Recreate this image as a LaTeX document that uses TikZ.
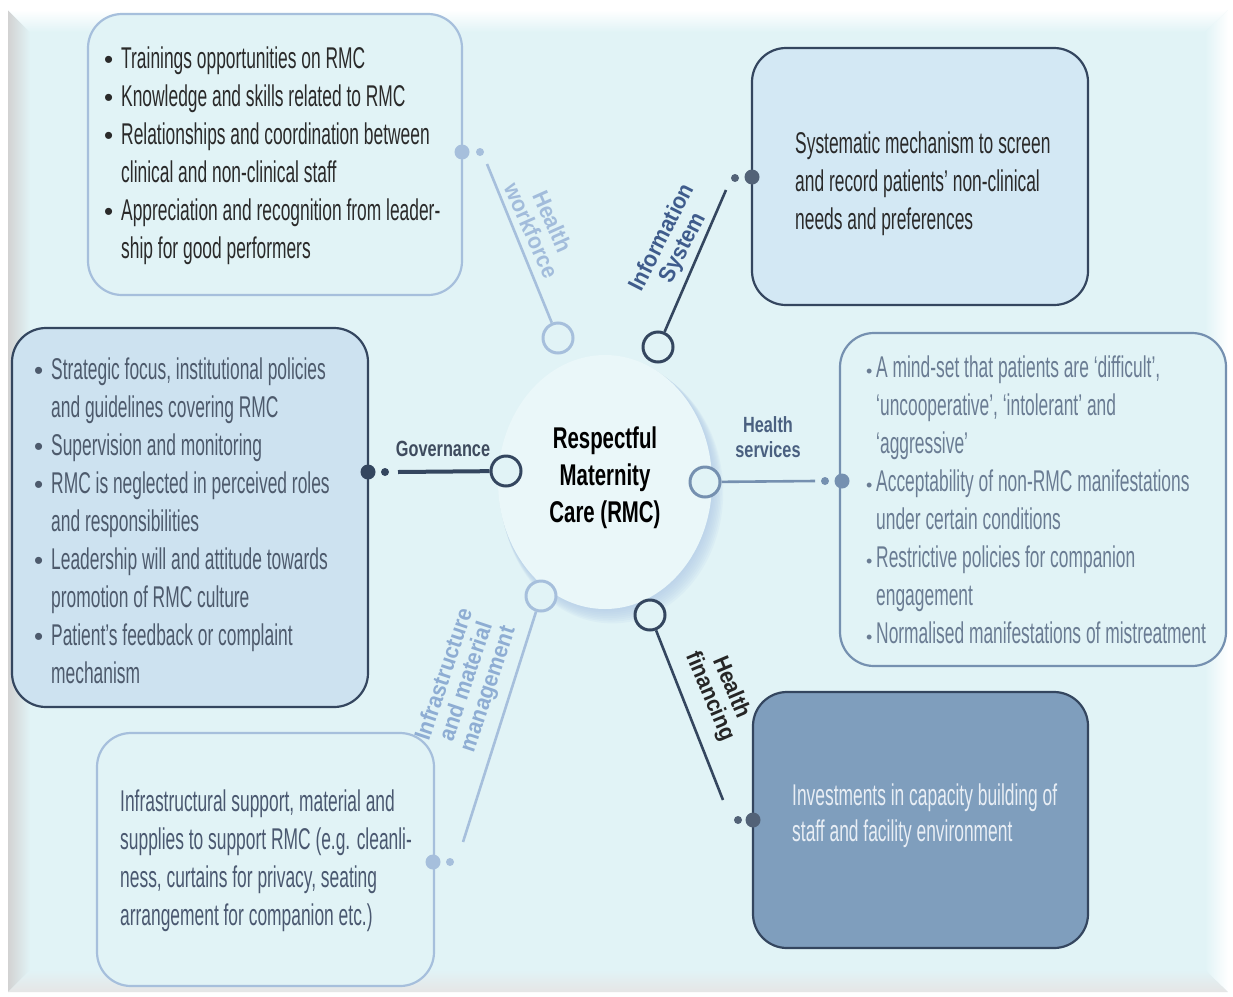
\documentclass[tikz,border=0pt]{standalone}
\usepackage{fontspec}
\setmainfont{Liberation Sans}[FakeStretch=0.58]
\newfontfamily\labfont{Liberation Sans}[FakeStretch=0.74]
\newfontfamily\rotfont{Liberation Sans}[FakeStretch=0.92]
\newfontfamily\cenfont{Liberation Sans}[FakeStretch=0.68]
\newfontfamily\plainfont{Liberation Sans}
\usetikzlibrary{shapes.geometric}
\definecolor{panel}{HTML}{E1F3F6}
\definecolor{darkline}{HTML}{34465F}
\definecolor{lightline}{HTML}{A6BFDC}
\definecolor{midline}{HTML}{7590B0}
\definecolor{infofill}{HTML}{D3E8F4}
\definecolor{govfill}{HTML}{CDE2F0}
\definecolor{finfill}{HTML}{7F9EBD}
\definecolor{txtdark}{HTML}{2A2A2A}
\definecolor{txtgov}{HTML}{4D5A6C}
\definecolor{txths}{HTML}{6A7C93}
\definecolor{txtinf}{HTML}{4A5870}
\definecolor{txtfin}{HTML}{E8EEF5}
\definecolor{labblue}{HTML}{3F5C8C}
\definecolor{lablight}{HTML}{A2BCDB}
\definecolor{labinf}{HTML}{8EADD3}
\definecolor{labgov}{HTML}{3E4B5E}
\definecolor{labhs}{HTML}{4A6080}
\definecolor{shadowc}{HTML}{AFC9E6}
\newcommand\bul{\makebox[17pt][l]{\plainfont\fontsize{26}{26}\selectfont•}}
\newcommand\ind{\hspace*{17pt}}
\newcommand\sbul{\makebox[10pt][l]{\plainfont\fontsize{18}{18}\selectfont•}}
\newcommand\sind{\hspace*{10pt}}
\tikzset{
  box/.style={rounded corners=34pt, line width=2.2pt},
  btext/.style={anchor=north west, inner sep=0pt, align=left, font=\fontsize{30}{38}\selectfont},
  smallc/.style={circle, minimum size=30pt, inner sep=0pt, line width=3pt, fill=panel},
  bigdot/.style={circle, minimum size=15pt, inner sep=0pt},
  smalldot/.style={circle, minimum size=8pt, inner sep=0pt},
  conn/.style={line width=2.6pt},
  lab/.style={font=\labfont\bfseries\fontsize{22}{25}\selectfont, align=center, inner sep=0pt},
  rlab/.style={font=\rotfont\bfseries\fontsize{23}{23}\selectfont, align=center, inner sep=0pt}
}
\begin{document}
\begin{tikzpicture}[x=1pt,y=-1pt]
\useasboundingbox (0,0) rectangle (1233,996);
% frame
\fill[white] (0,0) rectangle (1233,996);
\fill[panel] (8,10) rectangle (1228,992);
\shade[left color=white!65!gray, right color=panel] (8,10) -- (30,32) -- (30,970) -- (8,992) -- cycle;
\shade[top color=white, bottom color=panel] (8,10) -- (1228,10) -- (1205,32) -- (30,32) -- cycle;
\shade[left color=panel, right color=white] (1228,10) -- (1228,992) -- (1205,970) -- (1205,32) -- cycle;
\shade[top color=panel, bottom color=white!80!gray] (8,992) -- (1228,992) -- (1205,970) -- (30,970) -- cycle;
% center circle with shadow
\foreach \i in {1,...,8}{
  \fill[shadowc, opacity=0.12] (605+\i*0.9,482+\i*1.3) ellipse [x radius=107pt+\i*0.5pt, y radius=127pt+\i*0.5pt];
}
\fill[white!30!panel] (605,482) ellipse [x radius=107pt, y radius=127pt];
\node[font=\cenfont\bfseries\fontsize{30}{37}\selectfont, align=center, text=black, inner sep=0pt] (rmc) at (605,478) {Respectful\\Maternity\\Care (RMC)};
% boxes
\node[box, draw=lightline, fill=panel, minimum width=374pt, minimum height=281pt] (wfbox) at (275,154.5) {};
\node[box, draw=darkline, fill=infofill, minimum width=336pt, minimum height=257pt] (isbox) at (920,176.5) {};
\node[box, draw=darkline, fill=govfill, minimum width=356pt, minimum height=379pt] (govbox) at (190,517.5) {};
\node[box, draw=midline, fill=panel, minimum width=386pt, minimum height=333pt] (hsbox) at (1033,499.5) {};
\node[box, draw=lightline, fill=panel, minimum width=337pt, minimum height=253pt] (infbox) at (265.5,859.5) {};
\node[box, draw=darkline, fill=finfill, minimum width=335pt, minimum height=256pt] (hfbox) at (920.5,820) {};
% box texts
\node[btext, text=txtdark] (wft) at (104,47) {\bul Trainings opportunities on RMC\\\bul Knowledge and skills related to RMC\\\bul Relationships and coordination between\\\ind clinical and non-clinical staff\\\bul Appreciation and recognition from leader-\\\ind ship for good performers};
\node[btext, text=txtdark] (ist) at (795,132) {Systematic mechanism to screen\\and record patients’ non-clinical\\needs and preferences};
\node[btext, text=txtgov] (govt) at (34,358) {\bul Strategic focus, institutional policies\\\ind and guidelines covering RMC\\\bul Supervision and monitoring\\\bul RMC is neglected in perceived roles\\\ind and responsibilities\\\bul Leadership will and attitude towards\\\ind promotion of RMC culture\\\bul Patient’s feedback or complaint\\\ind mechanism};
\node[btext, text=txths] (hst) at (866,356) {\sbul A mind-set that patients are ‘difficult’,\\\sind ‘uncooperative’, ‘intolerant’ and\\\sind ‘aggressive’\\\sbul Acceptability of non-RMC manifestations\\\sind under certain conditions\\\sbul Restrictive policies for companion\\\sind engagement\\\sbul Normalised manifestations of mistreatment};
\node[btext, text=txtinf] (inft) at (120,790) {Infrastructural support, material and\\supplies to support RMC (e.g. cleanli-\\ness, curtains for privacy, seating\\arrangement for companion etc.)};
\node[btext, text=txtfin, font=\fontsize{30}{36}\selectfont] (hft) at (792,784) {Investments in capacity building of\\staff and facility environment};
% small circles on hub
\node[smallc, draw=lightline] (wfc) at (558,338) {};
\node[smallc, draw=darkline] (isc) at (658,347) {};
\node[smallc, draw=darkline] (govc) at (506,471) {};
\node[smallc, draw=midline] (hsc) at (705,482) {};
\node[smallc, draw=lightline] (infc) at (541,596) {};
\node[smallc, draw=darkline] (hfc) at (650,615) {};
% free ends and dots
\coordinate (wfe) at (487,164);
\coordinate (ise) at (726,190);
\coordinate (gove) at (398,472);
\coordinate (hse) at (815,481);
\coordinate (infe) at (463,842);
\coordinate (hfe) at (723,800);
\node[bigdot, fill=lightline] (wfb) at (462,152) {};
\node[smalldot, fill=lightline] (wfs) at (480,152) {};
\node[bigdot, fill=darkline!85] (isb) at (752,177) {};
\node[smalldot, fill=darkline!85] (iss) at (735,178) {};
\node[bigdot, fill=darkline] (govb) at (368,472) {};
\node[smalldot, fill=darkline] (govs) at (385,472) {};
\node[bigdot, fill=midline] (hsb) at (842,481) {};
\node[smalldot, fill=midline] (hss) at (825,481) {};
\node[bigdot, fill=lightline] (infb) at (433,862) {};
\node[smalldot, fill=lightline] (infs) at (450,862) {};
\node[bigdot, fill=darkline!85] (hfb) at (753,820) {};
\node[smalldot, fill=darkline!85] (hfs) at (738,820) {};
% connectors
\draw[conn, lightline] (wfc) -- (wfe);
\draw[conn, darkline] (isc) -- (ise);
\draw[line width=4pt, darkline] (govc) -- (gove);
\draw[conn, midline] (hsc) -- (hse);
\draw[conn, lightline] (infc) -- (infe);
\draw[conn, darkline] (hfc) -- (hfe);
% labels
\node[rlab, text=lablight, rotate=-66] (wfl) at (542,226) {Health\\workforce};
\node[rlab, text=labblue, rotate=63] (isl) at (673,243) {Information\\System};
\node[lab, text=labgov] (govl) at (443,449) {Governance};
\node[lab, text=labhs] (hsl) at (768,437) {Health\\services};
\node[rlab, text=labinf, rotate=71.5] (infl) at (467,682) {Infrastructure\\and material\\management};
\node[rlab, text=black!85, rotate=-67] (hfl) at (720,692) {Health\\financing};
\end{tikzpicture}
\end{document}
